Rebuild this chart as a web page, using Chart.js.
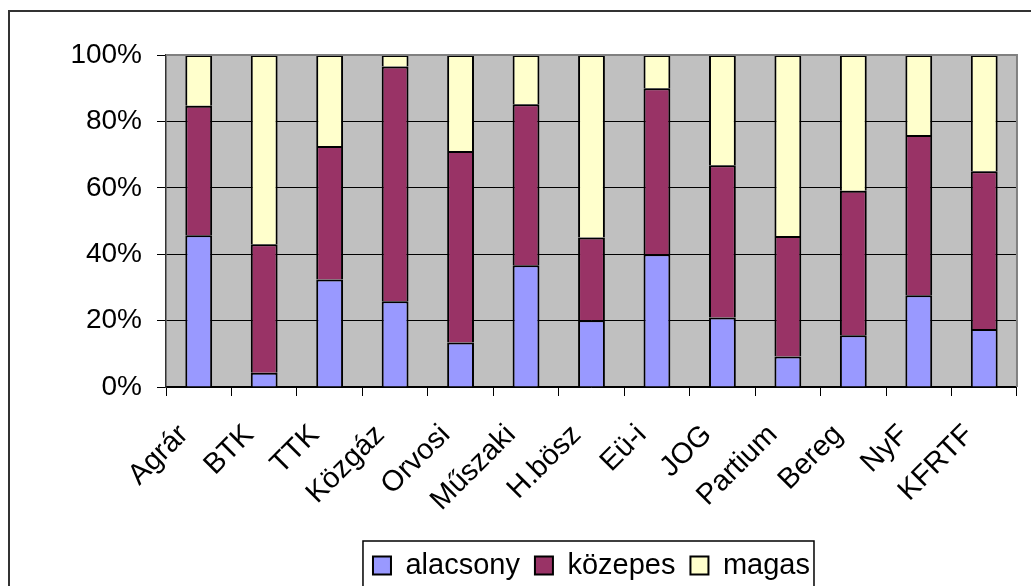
<!DOCTYPE html>
<html>
<head>
<meta charset="utf-8">
<script src="https://cdn.jsdelivr.net/npm/chart.js@4/dist/chart.umd.min.js"></script>
<style>
  html, body { margin: 0; padding: 0; background: #fff; }
  canvas { display: block; }
</style>
</head>
<body>
<canvas id="chart" width="1031" height="586"></canvas>
<script>
// kategóriák és értékek (%)
const categories = ['Agrár', 'BTK', 'TTK', 'Közgáz', 'Orvosi', 'Műszaki', 'H.bösz', 'Eü-i', 'JOG', 'Partium', 'Bereg', 'NyF', 'KFRTF'];
const alacsony = [45.7, 4.3, 32.4, 25.8, 13.4, 36.7, 20.1, 40.0, 20.9, 9.2, 15.6, 27.6, 17.5];
const kozepes  = [39.0, 38.7, 40.2, 70.7, 57.7, 48.5, 24.9, 50.0, 45.9, 36.3, 43.5, 48.3, 47.5];
const magas    = [15.3, 57.0, 27.4, 3.5, 28.9, 14.8, 55.0, 10.0, 33.2, 54.5, 40.9, 24.1, 35.0];
const yTicks = [0, 20, 40, 60, 80, 100];

const FONT = 'Liberation Sans, Arial, sans-serif';

// szürke háttér a rajzterületen + keretek
const frame = {
    id: 'frame',
    beforeDraw(chart) {
        const { ctx, chartArea: a } = chart;
        ctx.save();
        ctx.fillStyle = '#c0c0c0';
        ctx.fillRect(a.left, a.top, a.right - a.left, a.bottom - a.top);
        ctx.restore();
    },
    afterDraw(chart) {
        const { ctx, chartArea: a } = chart;
        ctx.save();
        ctx.strokeStyle = '#808080';
        ctx.lineWidth = 2;
        ctx.beginPath();
        ctx.moveTo(a.left, a.top);
        ctx.lineTo(a.right, a.top);
        ctx.lineTo(a.right, a.bottom);
        ctx.stroke();
        // külső keret
        ctx.strokeStyle = '#333';
        ctx.lineWidth = 2;
        ctx.strokeRect(9, 11, 1200, 1000);
        // jelmagyarázat kerete
        const boxes = chart.legend.legendHitBoxes;
        if (boxes && boxes.length) {
            const first = boxes[0], last = boxes[boxes.length - 1];
            const l = first.left - 10, t = first.top - 10;
            const r = last.left + last.width + 4;
            ctx.lineWidth = 1.5;
            ctx.strokeStyle = '#000';
            ctx.strokeRect(l, t, r - l, 200);
        }
        ctx.restore();
    }
};

new Chart(document.getElementById('chart').getContext('2d'), {
    type: 'bar',
    data: {
        labels: categories,
        datasets: [{
            label: 'alacsony',
            data: alacsony,
            backgroundColor: '#9999ff',
            borderColor: '#000',
            borderWidth: 2,
        }, {
            label: 'közepes',
            data: kozepes,
            backgroundColor: '#993366',
            borderColor: '#000',
            borderWidth: 2,
        }, {
            label: 'magas',
            data: magas,
            backgroundColor: '#ffffcc',
            borderColor: '#000',
            borderWidth: 2,
        }]
    },
    options: {
        responsive: false,
        animation: false,
        devicePixelRatio: 1,
        barPercentage: 0.41,
        categoryPercentage: 1,
        layout: { padding: { top: 55, right: 4, left: 0, bottom: -4 } },
        plugins: {
            tooltip: { enabled: false },
            legend: {
                position: 'bottom',
                fullSize: false,
                labels: {
                    color: '#000',
                    font: { family: FONT, size: 29 },
                    boxWidth: 18,
                    boxHeight: 18,
                    padding: 15
                }
            }
        },
        scales: {
            x: {
                stacked: true,
                grid: { drawOnChartArea: false, color: '#000', tickLength: 9, offset: true },
                border: { color: '#000', width: 1.5 },
                ticks: {
                    color: '#000',
                    font: { family: FONT, size: 29 },
                    minRotation: 45,
                    maxRotation: 45,
                    padding: 22,
                    labelOffset: -15,
                    autoSkip: false
                },
                afterFit(scale) { scale.height = 149; }
            },
            y: {
                stacked: true,
                min: 0,
                max: 100,
                grid: { color: '#000', lineWidth: 1, tickLength: 9 },
                border: { color: '#333', width: 1.5 },
                afterBuildTicks(scale) { scale.ticks = yTicks.map(v => ({ value: v })); },
                ticks: {
                    color: '#000',
                    font: { family: FONT, size: 28 },
                    padding: 15,
                    callback: v => v + '%'
                },
                afterFit(scale) { scale.width = 166; }
            }
        }
    },
    plugins: [frame]
});
</script>
</body>
</html>
